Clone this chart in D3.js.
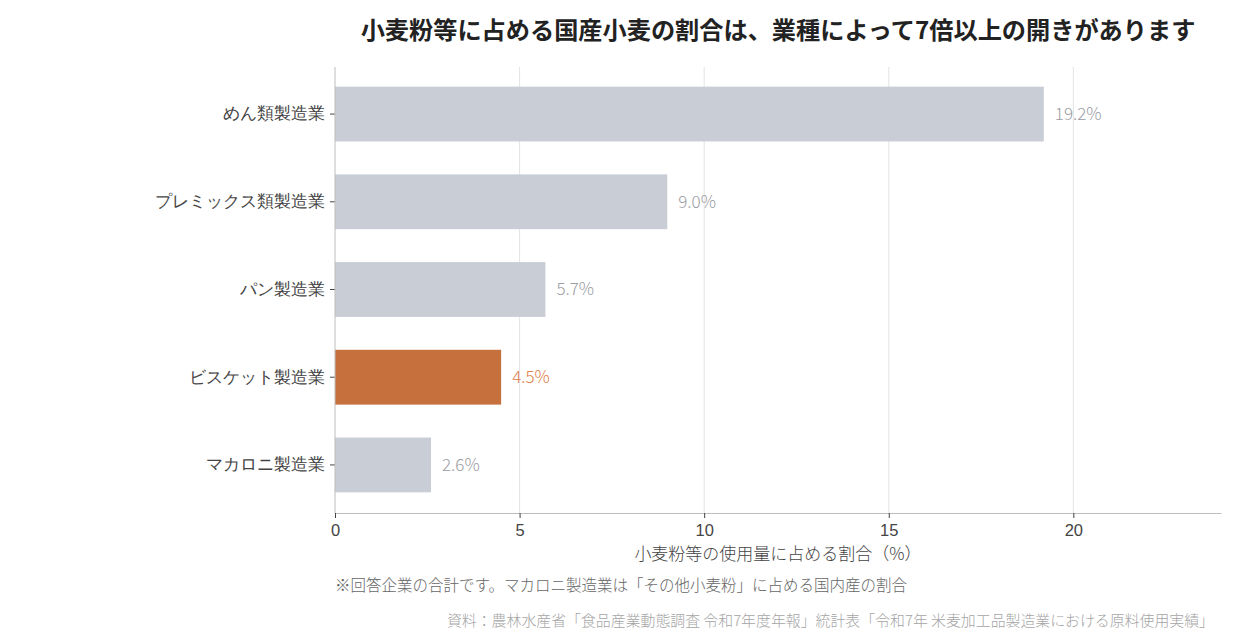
<!DOCTYPE html>
<html>
<head>
<meta charset="utf-8">
<script src="https://cdn.jsdelivr.net/npm/d3@7"></script>
<style>
  body { margin: 0; background: #fff; }
  svg { font-family: "Noto Sans CJK JP", "Noto Sans", sans-serif; }
</style>
</head>
<body>
<svg id="chart" width="1240" height="640"></svg>
<script>
// data
const categories = ['めん類製造業', 'プレミックス類製造業', 'パン製造業', 'ビスケット製造業', 'マカロニ製造業'];
const shares = [19.2, 9.0, 5.7, 4.5, 2.6];
const highlighted = ['ビスケット製造業'];
const xTicks = [0, 5, 10, 15, 20];

const width = 1240;
const height = 640;
const margin = {top: 67, right: 19, bottom: 128, left: 335};

const svg = d3.select('#chart');

const x = d3.scaleLinear()
    .domain([0, 24])
    .range([margin.left, width - margin.right]);

const y = d3.scaleBand()
    .domain(categories)
    .range([70, 509])
    .paddingInner(0.375)
    .paddingOuter(0.19);

const plotBottom = height - margin.bottom + 1;

// gridlines
svg.append('g')
    .selectAll('line')
    .data(xTicks.filter(d => d > 0))
    .enter().append('line')
    .attr('x1', d => x(d))
    .attr('x2', d => x(d))
    .attr('y1', margin.top)
    .attr('y2', plotBottom)
    .attr('stroke', '#e3e3e3')
    .attr('stroke-width', 1);

// bars
const rows = categories.map((c, i) => ({name: c, value: shares[i]}));

svg.append('g')
    .selectAll('rect')
    .data(rows)
    .enter().append('rect')
    .attr('x', x(0))
    .attr('y', d => y(d.name))
    .attr('width', d => x(d.value) - x(0))
    .attr('height', y.bandwidth())
    .attr('fill', d => highlighted.includes(d.name) ? '#c5703d' : '#c9cdd5');

// value labels
svg.append('g')
    .selectAll('text')
    .data(rows)
    .enter().append('text')
    .attr('x', d => x(d.value) + 11)
    .attr('y', d => y(d.name) + y.bandwidth() / 2)
    .attr('dy', '0.35em')
    .attr('font-size', 17)
    .attr('font-weight', 300)
    .attr('fill', d => highlighted.includes(d.name) ? '#e0804a' : '#9a9ca3')
    .text(d => d.value.toFixed(1) + '%');

// x axis
const xAxis = svg.append('g')
    .attr('transform', `translate(0,${plotBottom})`)
    .call(d3.axisBottom(x).tickValues(xTicks).tickSize(5).tickSizeOuter(0));
xAxis.select('.domain').attr('stroke', '#bdbdbd');
xAxis.selectAll('.tick line').attr('stroke', '#444');
xAxis.selectAll('.tick text')
    .attr('font-size', 16.5)
    .attr('font-weight', 300)
    .attr('fill', '#444')
    .attr('dy', '0.88em');

// y axis
const yAxis = svg.append('g')
    .attr('transform', `translate(${margin.left},0)`)
    .call(d3.axisLeft(y).tickSize(5).tickSizeOuter(0));
yAxis.select('.domain').remove();
yAxis.append('line')
    .attr('y1', margin.top)
    .attr('y2', plotBottom)
    .attr('stroke', '#bdbdbd');
yAxis.selectAll('.tick line').attr('stroke', '#444');
yAxis.selectAll('.tick text')
    .attr('font-size', 16.8)
    .attr('font-weight', 300)
    .attr('fill', '#444')
    .attr('x', -10);

// title
svg.append('text')
    .attr('x', (x.range()[0] + x.range()[1]) / 2)
    .attr('y', 39)
    .attr('text-anchor', 'middle')
    .attr('font-size', 24.2)
    .attr('font-weight', 700)
    .attr('fill', '#222')
    .text('小麦粉等に占める国産小麦の割合は、業種によって7倍以上の開きがあります');

// axis title
svg.append('text')
    .attr('x', (x.range()[0] + x.range()[1]) / 2)
    .attr('y', 560)
    .attr('text-anchor', 'middle')
    .attr('font-size', 17)
    .attr('font-weight', 300)
    .attr('fill', '#444')
    .text('小麦粉等の使用量に占める割合（%）');

// note
svg.append('text')
    .attr('x', margin.left)
    .attr('y', 591)
    .attr('font-size', 15.5)
    .attr('font-weight', 300)
    .attr('fill', '#666')
    .text('※回答企業の合計です。マカロニ製造業は「その他小麦粉」に占める国内産の割合');

// source
svg.append('text')
    .attr('x', 1214)
    .attr('y', 626)
    .attr('text-anchor', 'end')
    .attr('font-size', 14.9)
    .attr('font-weight', 300)
    .attr('fill', '#a5a5a5')
    .text('資料：農林水産省「食品産業動態調査 令和7年度年報」統計表「令和7年 米麦加工品製造業における原料使用実績」');
</script>
</body>
</html>
